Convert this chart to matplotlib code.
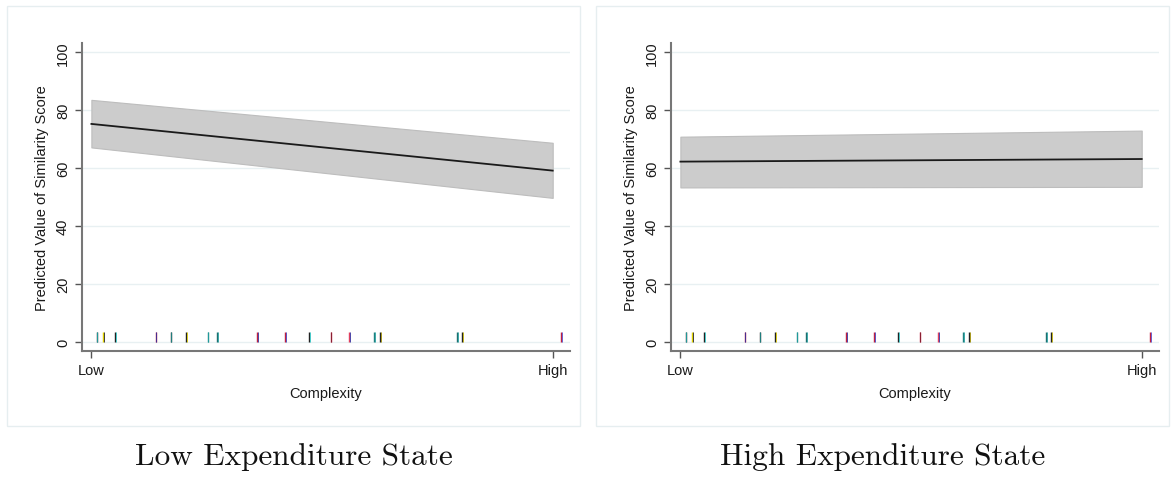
import numpy as np
import matplotlib
matplotlib.use("Agg")
import matplotlib.pyplot as plt
from matplotlib.patches import Rectangle

plt.rcParams['font.family'] = ['Liberation Sans', 'DejaVu Sans']

# complexity scaled 0 (Low) .. 1 (High)
x_end = [0.0, 1.0]

# predicted value and 95% band at Low / High
low_fit = [75.3, 59.2]
low_lo = [67.2, 49.8]
low_hi = [83.6, 68.8]

high_fit = [62.3, 63.2]
high_lo = [53.4, 53.6]
high_hi = [70.9, 73.0]

# rug positions (observed complexity of the states)
rug_x = [0.0117, 0.0254, 0.052, 0.1396, 0.172, 0.205, 0.252, 0.272, 0.360,
         0.420, 0.472, 0.519, 0.559, 0.613, 0.626, 0.793, 0.804, 1.019]
rug_col_a = ['#222222', '#e0d000', '#222222', '#c02040', '#222222', '#222222',
             '#1f7f7f', '#1f6f6f', '#c02040', '#c02040', '#222222', '#c02040',
             '#e04060', '#1f7f7f', '#222222', '#1f6f6f', '#222222', '#c02040']
rug_col_b = ['#20b0b0', '#222222', '#30c8c8', '#3030a0', '#1f9090', '#d8c800',
             '#20a0a0', '#20a0a0', '#3030a0', '#4040c0', '#30c8c8', '#802030',
             '#3030a0', '#20a0a0', '#a09000', '#20a0a0', '#c0b000', '#5050d0']

titles = ['Low Expenditure State', 'High Expenditure State']

fig = plt.figure(figsize=(11.76, 4.81), dpi=100)

# light panel frames
for x0 in (7, 596):
    fig.patches.append(Rectangle((x0 / 1176, (481 - 427) / 481), 573 / 1176, 420 / 481,
                                 transform=fig.transFigure, fill=False,
                                 edgecolor='#e6eef0', lw=1.0))

axes_left = [81.7 / 1176, 670.7 / 1176]
panels = [(low_fit, low_lo, low_hi), (high_fit, high_lo, high_hi)]

for i, (fit, lo, hi) in enumerate(panels):
    ax = fig.add_axes([axes_left[i], 0.2688, 488.3 / 1176, 0.6391])
    ax.fill_between(x_end, lo, hi, color='#cccccc', edgecolor='#bdbdbd', lw=0.8, zorder=2)
    ax.plot(x_end, fit, color='#1a1a1a', lw=1.3, zorder=3)
    ax.vlines(rug_x, 0, 3.6, colors=rug_col_a, lw=1.0, zorder=4)
    ax.vlines(np.array(rug_x) + 0.0014, 0, 3.6, colors=rug_col_b, lw=0.6, zorder=4)

    ax.set_xlim(-0.021, 1.0375)
    ax.set_ylim(-2.9, 103.1)
    ax.set_yticks([0, 20, 40, 60, 80, 100])
    ax.set_xticks([0, 1])
    ax.set_xticklabels(['Low', 'High'])
    ax.grid(axis='y', color='#e8f0f2', lw=1.0, zorder=0)
    ax.set_axisbelow(True)
    for s in ('top', 'right'):
        ax.spines[s].set_visible(False)
    for s in ('left', 'bottom'):
        ax.spines[s].set_color('#777777')
        ax.spines[s].set_linewidth(1.5)
    ax.tick_params(axis='both', colors='#555555', labelcolor='#1a1a1a',
                   length=5, width=1, labelsize=10.5)
    for lab in ax.get_yticklabels():
        lab.set_rotation(90)
        lab.set_va('center')
    ax.set_ylabel('Predicted Value of Similarity Score', fontsize=10.5, color='#1a1a1a', labelpad=5)
    ax.set_xlabel('Complexity', fontsize=10.5, color='#1a1a1a', labelpad=7)

    fig.text((7 + 573 / 2 + i * 589) / 1176, 1 - 457 / 481, titles[i],
             family='cmr10', fontsize=22.5, ha='center', va='center', color='#111111')

fig.savefig('out.png', dpi=100, facecolor='white')
